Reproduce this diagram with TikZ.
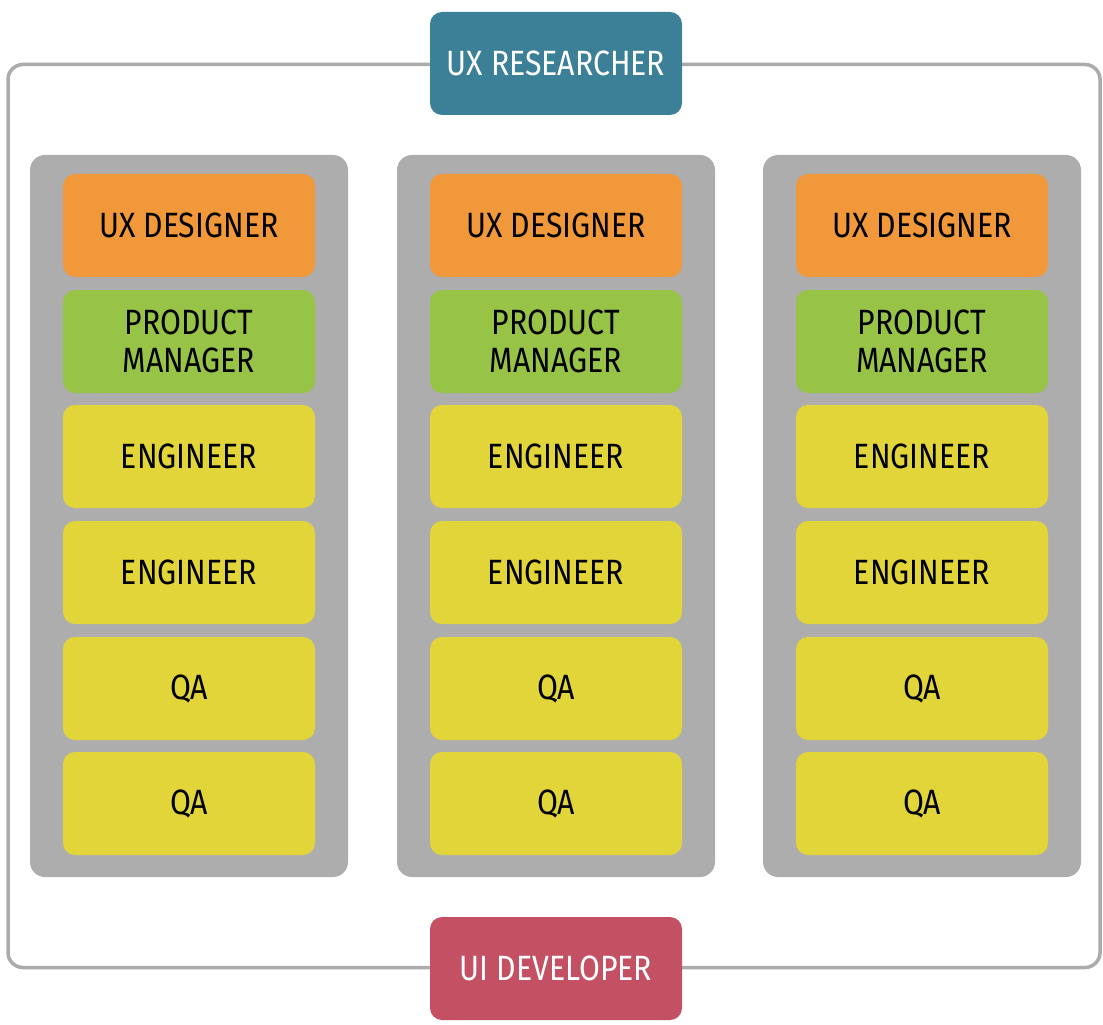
\documentclass[tikz,border=0pt]{standalone}
\usepackage{fontspec}
\setmainfont{Fira Sans}[FakeStretch=0.86]
\usepackage{tikz}
\usetikzlibrary{positioning}

\definecolor{frameGray}{HTML}{ABABAB}
\definecolor{laneGray}{HTML}{ADADAD}
\definecolor{uxTeal}{HTML}{3B8096}
\definecolor{uiRed}{HTML}{C35163}
\definecolor{dsgOrange}{HTML}{F0983A}
\definecolor{pmGreen}{HTML}{97C447}
\definecolor{roleYellow}{HTML}{E2D53A}

\tikzset{
  role/.style={rectangle, rounded corners=0.24cm, minimum width=5.04cm,
    minimum height=2.06cm, inner sep=0pt, align=center,
    font=\fontsize{20}{21.5}\selectfont},
  lane/.style={rectangle, rounded corners=0.3cm, fill=laneGray,
    minimum width=6.36cm, minimum height=14.44cm, inner sep=0pt},
  designer/.style={role, fill=dsgOrange},
  manager/.style={role, fill=pmGreen},
  worker/.style={role, fill=roleYellow},
  outside/.style={role, text=white}
}

\begin{document}
\begin{tikzpicture}
\useasboundingbox (0,0) rectangle (22.06,20.48);

% outer frame
\draw[frameGray, line width=0.07cm, rounded corners=0.3cm] (0.16,1.13) rectangle (22.0,19.19);

\node[outside, fill=uxTeal] (researcher) at (11.12,19.21) {UX RESEARCHER};
\node[outside, fill=uiRed] (developer) at (11.12,1.11) {UI DEVELOPER};

% teams
\node[lane] (laneA) at (3.78,10.16) {};
\node[lane] (laneB) at (11.12,10.16) {};
\node[lane] (laneC) at (18.44,10.16) {};

\node[designer] (dA) at (3.78,15.97) {UX DESIGNER};
\node[manager] (pA) at (3.78,13.65) {PRODUCT\\MANAGER};
\node[worker] (eA1) at (3.78,11.35) {ENGINEER};
\node[worker] (eA2) at (3.78,9.03) {ENGINEER};
\node[worker] (qA1) at (3.78,6.71) {QA};
\node[worker] (qA2) at (3.78,4.41) {QA};

\node[designer] (dB) at (11.12,15.97) {UX DESIGNER};
\node[manager] (pB) at (11.12,13.65) {PRODUCT\\MANAGER};
\node[worker] (eB1) at (11.12,11.35) {ENGINEER};
\node[worker] (eB2) at (11.12,9.03) {ENGINEER};
\node[worker] (qB1) at (11.12,6.71) {QA};
\node[worker] (qB2) at (11.12,4.41) {QA};

\node[designer] (dC) at (18.44,15.97) {UX DESIGNER};
\node[manager] (pC) at (18.44,13.65) {PRODUCT\\MANAGER};
\node[worker] (eC1) at (18.44,11.35) {ENGINEER};
\node[worker] (eC2) at (18.44,9.03) {ENGINEER};
\node[worker] (qC1) at (18.44,6.71) {QA};
\node[worker] (qC2) at (18.44,4.41) {QA};

\end{tikzpicture}
\end{document}
